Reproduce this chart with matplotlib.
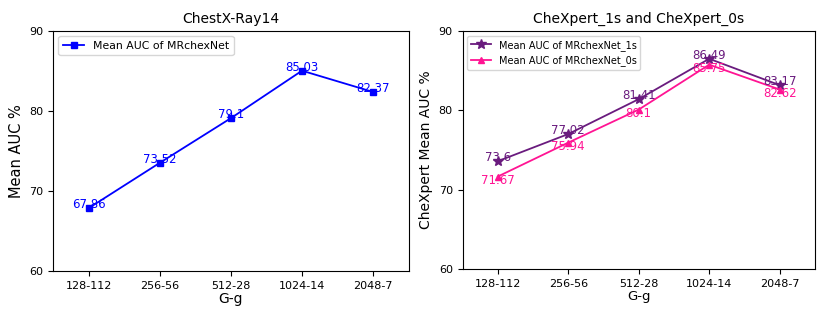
import matplotlib
matplotlib.use('Agg')
import matplotlib.pyplot as plt

# ── Data ──────────────────────────────────────────────────────────────
groups = ['128-112', '256-56', '512-28', '1024-14', '2048-7']
chestx_auc = [67.86, 73.52, 79.1, 85.03, 82.37]
chexpert_1s = [73.6, 77.02, 81.41, 86.49, 83.17]
chexpert_0s = [71.67, 75.94, 80.1, 85.75, 82.62]

x = list(range(len(groups)))
purple = '#6a1b7e'
pink = '#ff1493'

fig = plt.figure(figsize=(8.29, 3.12), dpi=100)
ax1 = fig.add_axes([0.064, 0.131, 0.429, 0.770])
ax2 = fig.add_axes([0.558, 0.137, 0.425, 0.764])

# ── Left: ChestX-Ray14 ────────────────────────────────────────────────
ax1.plot(x, chestx_auc, color='blue', marker='s', ms=5, lw=1.3,
         label='Mean AUC of MRchexNet')
for xi, v in zip(x, chestx_auc):
    ax1.text(xi, v - 0.4, f'{v:g}', color='blue', fontsize=8.5,
             ha='center', va='bottom')
ax1.set_title('ChestX-Ray14', fontsize=10)
ax1.set_ylabel('Mean AUC %', fontsize=10.5)
ax1.set_xlabel('G-g', fontsize=10, labelpad=1)
ax1.legend(loc='upper left', fontsize=7.8)

# ── Right: CheXpert ───────────────────────────────────────────────────
ax2.plot(x, chexpert_1s, color=purple, marker='*', ms=7, lw=1.3,
         label='Mean AUC of MRchexNet_1s')
ax2.plot(x, chexpert_0s, color=pink, marker='^', ms=5, lw=1.3,
         label='Mean AUC of MRchexNet_0s')
for xi, v in zip(x, chexpert_1s):
    ax2.text(xi, v - 0.4, f'{v:g}', color=purple, fontsize=8.5,
             ha='center', va='bottom')
for xi, v in zip(x, chexpert_0s):
    ax2.text(xi, v + 0.3, f'{v:g}', color=pink, fontsize=8.5,
             ha='center', va='top')
ax2.set_title('CheXpert_1s and CheXpert_0s', fontsize=10)
ax2.set_ylabel('CheXpert Mean AUC %', fontsize=10)
ax2.set_xlabel('G-g', fontsize=9.5, labelpad=1)
ax2.legend(loc='upper left', fontsize=7.0)

for ax in (ax1, ax2):
    ax.set_xticks(x)
    ax.set_xticklabels(groups)
    ax.set_xlim(-0.5, 4.5)
    ax.set_ylim(60, 90)
    ax.set_yticks([60, 70, 80, 90])
    ax.tick_params(labelsize=8)

fig.savefig('out.png', dpi=100)
